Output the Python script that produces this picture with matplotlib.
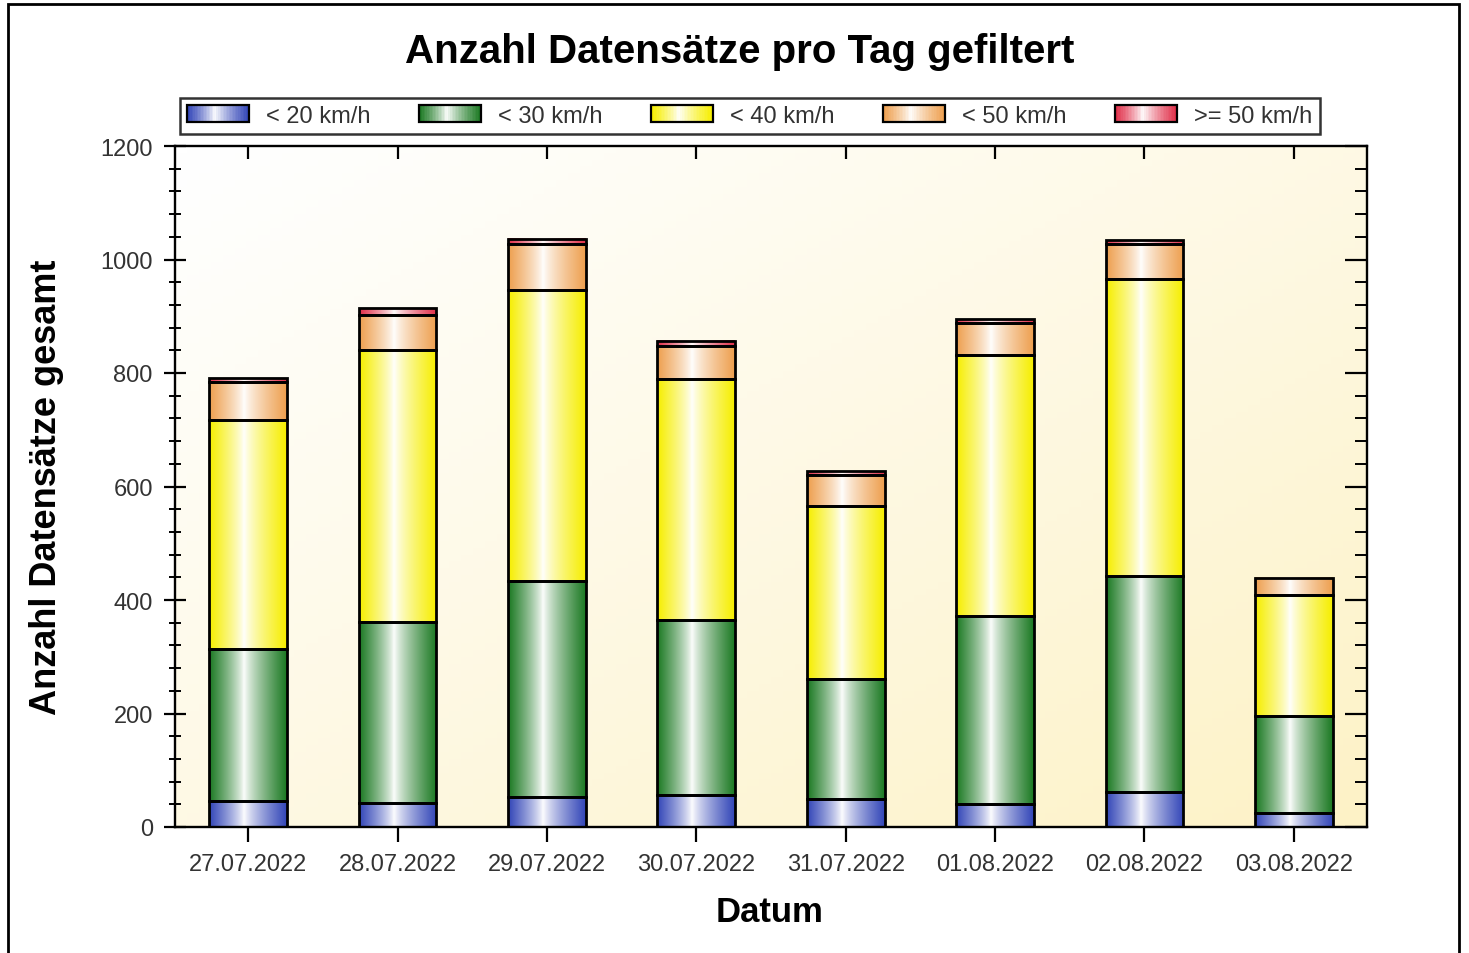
#--Importing--#
import numpy as np
import matplotlib
matplotlib.use("Agg")
import matplotlib.pyplot as plt
from matplotlib.patches import Rectangle, Patch
from matplotlib.legend_handler import HandlerBase
from matplotlib.colors import to_rgb
from matplotlib.ticker import MultipleLocator

#--1. Data--#
dates = ["27.07.2022", "28.07.2022", "29.07.2022", "30.07.2022",
         "31.07.2022", "01.08.2022", "02.08.2022", "03.08.2022"]
labels = ["< 20 km/h", "< 30 km/h", "< 40 km/h", "< 50 km/h", ">= 50 km/h"]
v_lt20 = [45, 43, 52, 56, 50, 41, 62, 25]
v_lt30 = [269, 319, 382, 309, 211, 331, 381, 171]
v_lt40 = [404, 478, 512, 424, 305, 459, 522, 212]
v_lt50 = [67, 62, 81, 58, 55, 57, 62, 31]
v_ge50 = [7, 12, 9, 9, 7, 7, 7, 0]
series = [v_lt20, v_lt30, v_lt40, v_lt50, v_ge50]
colors = ["#3447b8", "#1d7a24", "#f6ee00", "#eea050", "#e0304a"]

plt.rcParams['font.family'] = ['Liberation Sans', 'DejaVu Sans']

#--2. Helpers--#
def grad_row(color, n=64):
    # cylinder look: full colour at edges, white a bit left of centre
    c = np.array(to_rgb(color))
    x = np.linspace(0, 1, n)
    t = np.where(x < 0.45, (0.45 - x) / 0.45, (x - 0.45) / 0.55)
    t = np.clip(t, 0, 1) ** 0.8
    return (1 - t)[:, None] * np.ones(3) + t[:, None] * c


class GradHandler(HandlerBase):
    def __init__(self, color):
        super().__init__()
        self.color = color

    def create_artists(self, legend, orig_handle, xdescent, ydescent,
                       width, height, fontsize, trans):
        arts = []
        rows = grad_row(self.color, 40)
        n = len(rows)
        for i, c in enumerate(rows):
            arts.append(Rectangle((-xdescent + width * i / n, -ydescent),
                                  width / n * 1.1, height, facecolor=c,
                                  edgecolor='none', transform=trans))
        arts.append(Rectangle((-xdescent, -ydescent), width, height,
                              facecolor='none', edgecolor='black', lw=1.6,
                              transform=trans))
        return arts


#--3. Figure--#
fig = plt.figure(figsize=(14.69, 9.54), dpi=100)
ax = fig.add_axes([175 / 1469, 1 - 828 / 954, 1192 / 1469, 681 / 954])

# plot area background: white top-left to cream bottom-right
yy, xx = np.mgrid[0:1:100j, 0:1:100j]
g = np.clip((xx + yy) / 2, 0, 1) ** 1.1
c0 = np.array([1.0, 1.0, 1.0])
c1 = np.array([253, 242, 198]) / 255
bg = (1 - g)[..., None] * c0 + g[..., None] * c1
ax.imshow(bg, extent=(0, 1, 0, 1), transform=ax.transAxes,
          aspect='auto', zorder=0, origin='upper')

x = np.arange(len(dates))
width = 0.52
bottoms = np.zeros(len(dates))
for vals, col in zip(series, colors):
    bars = ax.bar(x, vals, width, bottom=bottoms, facecolor='none',
                  edgecolor='black', lw=2.0, zorder=3)
    img = grad_row(col)[None, :, :]
    for p, v in zip(bars.patches, vals):
        if v <= 0:
            p.set_visible(False)
            continue
        ax.imshow(img, extent=(p.get_x(), p.get_x() + p.get_width(),
                               p.get_y(), p.get_y() + p.get_height()),
                  aspect='auto', zorder=2, interpolation='bilinear')
    bottoms += np.array(vals)

ax.set_xlim(-0.49, len(dates) - 0.51)
ax.set_ylim(0, 1200)

#--4. Axes styling--#
for s in ax.spines.values():
    s.set_linewidth(1.7)
ax.yaxis.set_major_locator(MultipleLocator(200))
ax.yaxis.set_minor_locator(MultipleLocator(40))
ax.set_xticks(x)
ax.set_xticklabels(dates)
ax.tick_params(axis='y', which='major', direction='inout', length=16,
               width=1.6, labelsize=17, pad=8, colors='black',
               labelcolor='#333333', right=True)
ax.tick_params(axis='y', which='minor', direction='inout', length=9,
               width=1.4, right=True)
ax.tick_params(axis='x', which='major', direction='inout', length=22,
               width=1.6, labelsize=17, pad=8, labelcolor='#333333',
               top=True)
# right and top ticks point inward only
for t in ax.yaxis.get_major_ticks() + ax.yaxis.get_minor_ticks():
    t.tick2line.set_marker(matplotlib.markers.TICKLEFT)
for t in ax.xaxis.get_major_ticks():
    t.tick2line.set_marker(matplotlib.markers.TICKDOWN)
    t.tick2line.set_markersize(9)

ax.set_ylabel("Anzahl Datensätze gesamt", fontsize=26, fontweight='bold')
ax.yaxis.set_label_coords(-0.093, 0.5)
ax.set_xlabel("Datum", fontsize=25, fontweight='bold')
ax.xaxis.set_label_coords(0.499, -0.10)

fig.text(740 / 1469, 1 - 52 / 954, "Anzahl Datensätze pro Tag gefiltert",
         ha='center', va='center', fontsize=29, fontweight='bold')

#--5. Legend--#
handles = [Patch(label=l) for l in labels]
hmap = {h: GradHandler(c) for h, c in zip(handles, colors)}
leg = fig.legend(handles, labels, handler_map=hmap, ncol=5,
                 loc='center', bbox_to_anchor=(750 / 1469, 1 - 117 / 954),
                 fontsize=17, frameon=True, fancybox=False,
                 handlelength=2.6, handleheight=0.7, handletextpad=0.75,
                 columnspacing=2.05, borderpad=0.3, labelcolor='#333333')
leg.get_frame().set_edgecolor('black')
leg.get_frame().set_linewidth(1.8)

#--6. Outer frame (scan border)--#
fig.add_artist(Rectangle((8 / 1469, -0.05), (1459 - 8) / 1469,
                         (954 - 5) / 954 + 0.05, transform=fig.transFigure,
                         fill=False, edgecolor='black', lw=2.0))

fig.savefig("out.png", dpi=100)
